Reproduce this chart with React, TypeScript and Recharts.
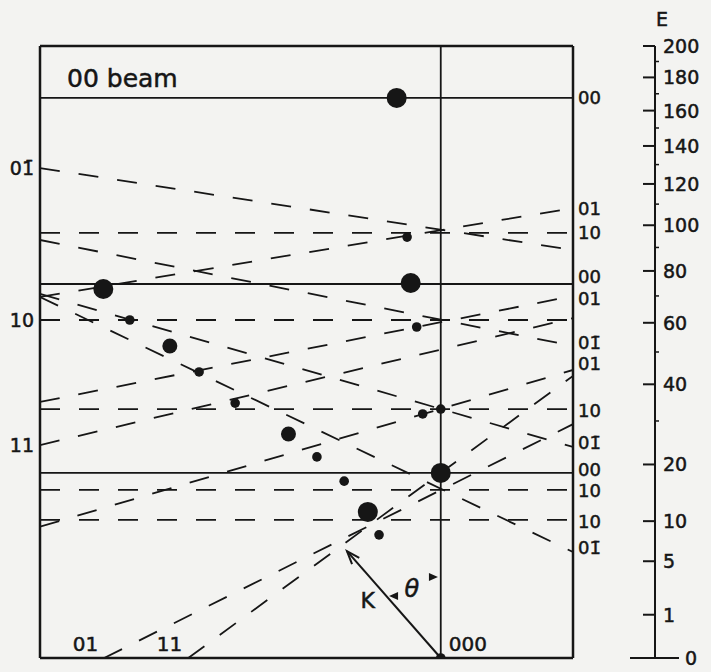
import React from 'react';
import {
  ComposedChart,
  Line,
  Scatter,
  XAxis,
  YAxis,
  ReferenceLine,
  ReferenceDot,
} from 'recharts';

const INK = '#161616';
const FONT = '"DejaVu Sans", Verdana, sans-serif';
const DASH = '20 19';

// x: parallel momentum (000 beam at 0), e: energy in eV (plotted on a sqrt scale)
const beamLevels = [167.5, 74.7, 18.3];
const tenLevels = [96.5, 61.0, 33.1, 15.1, 10.2];

// dashed lines, edge to edge
const line01barA = [{ x: -100, e: 128.2 }, { x: 33, e: 88.9 }];
const line01A = [{ x: -100, e: 69.6 }, { x: 33, e: 108.1 }];
const line01barB = [{ x: -100, e: 93.3 }, { x: 33, e: 52.0 }];
const line01B = [{ x: -100, e: 35.0 }, { x: 33, e: 70.0 }];
const line01barC = [{ x: -100, e: 69.6 }, { x: 33, e: 6.0 }];
const line01barD = [{ x: -100, e: 70.8 }, { x: 33, e: 23.8 }];
const line01D = [{ x: -100, e: 9.2 }, { x: 33, e: 44.3 }];
const line11 = [{ x: -100, e: 24.2 }, { x: 33, e: 61.7 }];
const line01Bottom = [{ x: -84, e: 0 }, { x: 33, e: 29.2 }];
const line11Bottom = [{ x: -63, e: 0 }, { x: 33, e: 42.5 }];

const dashedLines = [
  line01barA, line01A, line01barB, line01B, line01barC,
  line01barD, line01D, line11, line01Bottom, line11Bottom,
];

// intensity spots
const bigSpots = [
  { x: -11, e: 167.5 },
  { x: -84.2, e: 72.7 },
  { x: -7.5, e: 75.1 },
  { x: 0, e: 18.3 },
  { x: -18.2, e: 11.4 },
];
const midSpots = [
  { x: -67.6, e: 52.0 },
  { x: -38, e: 26.8 },
];
const smallSpots = [
  { x: -8.4, e: 94.6 },
  { x: -77.6, e: 61.0 },
  { x: -60.3, e: 43.7 },
  { x: -51.3, e: 34.7 },
  { x: -30.9, e: 21.6 },
  { x: -24.1, e: 16.7 },
  { x: -15.4, e: 8.1 },
  { x: -6, e: 58.5 },
  { x: 0, e: 33.1 },
  { x: -4.5, e: 31.8 },
  { x: 0, e: 0 },
];

// labels
const leftTicks = [128.2, 61.0, 24.2];
const leftNames = ['01\u0304', '10', '11'];
const rightTicks = [167.5, 107.7, 96.5, 77.6, 69.0, 53.0, 46.2, 32.8, 24.7, 18.9, 14.9, 10.0, 6.5];
const rightNames = ['00', '01', '10', '00', '01', '01\u0304', '01', '10', '01\u0304', '00', '10', '10', '01\u0304'];
const bottomTicks = [-84, -63, 0];
const bottomNames = ['01', '11', '000'];
const eMajor = [0, 1, 5, 10, 20, 40, 60, 80, 100, 120, 140, 160, 180, 200];
const eMinor = [30, 50, 70, 90, 110, 130, 150, 170, 190];

// K vector
const kStart = { x: 0, e: 0 };
const kTip = { x: -23.4, e: 6.1 };

// lettering: a thin outline makes it read like the pen-drawn labels
const txt = { fontFamily: FONT, fill: INK, stroke: INK, strokeWidth: 0.5 } as const;

const LeftTick = ({ x, y, index }: any) => (
  <text x={x - 6} y={y} textAnchor="end" dominantBaseline="central" fontSize={19} {...txt}>
    {leftNames[index]}
  </text>
);

const RightTick = ({ x, y, index }: any) => (
  <text x={x + 5} y={y} textAnchor="start" dominantBaseline="central" fontSize={18} {...txt}>
    {rightNames[index]}
  </text>
);

const BottomTick = ({ x, y, index }: any) => {
  const isOrigin = bottomTicks[index] === 0;
  return (
    <text
      x={isOrigin ? x + 8 : x - 6}
      y={y - 7}
      textAnchor={isOrigin ? 'start' : 'end'}
      fontSize={20}
      {...txt}
    >
      {bottomNames[index]}
    </text>
  );
};

const ETick = ({ x, y, payload }: any) => {
  const v = payload.value;
  if (!eMajor.includes(v)) {
    return <line x1={x} x2={x + 4} y1={y} y2={y} stroke={INK} strokeWidth={1.5} />;
  }
  const zero = v === 0;
  return (
    <g>
      <line x1={zero ? x - 25 : x - 12} x2={zero ? x + 24 : x} y1={y} y2={y} stroke={INK} strokeWidth={2} />
      <text x={zero ? x + 30 : x + 8} y={y} dominantBaseline="central" fontSize={19} {...txt}>
        {v}
      </text>
    </g>
  );
};

const KArrow = (p: any) => {
  const { x1, y1, x2, y2 } = p;
  if (x1 == null) return null;
  const ang = Math.atan2(y2 - y1, x2 - x1);
  const L = 14;
  const W = 0.35;
  const a1x = x2 - L * Math.cos(ang - W);
  const a1y = y2 - L * Math.sin(ang - W);
  const a2x = x2 - L * Math.cos(ang + W);
  const a2y = y2 - L * Math.sin(ang + W);
  return (
    <g stroke={INK} strokeWidth={2} fill="none">
      <line x1={x1} y1={y1} x2={x2} y2={y2} />
      <polyline points={`${a1x},${a1y} ${x2},${y2} ${a2x},${a2y}`} />
    </g>
  );
};

const Spot = (r: number) => (props: any) =>
  <circle cx={props.cx} cy={props.cy} r={r} fill={INK} />;

const Head = (dir: number) => (props: any) => {
  const { cx, cy } = props;
  return (
    <polygon
      points={`${cx + dir * 6},${cy} ${cx - dir * 3},${cy - 4} ${cx - dir * 3},${cy + 4}`}
      fill={INK}
    />
  );
};

export default function App() {
  return (
    <div style={{ width: 711, height: 672, background: '#f3f3f1' }}>
      <style>{'body{margin:0}'}</style>
      <ComposedChart width={711} height={672} margin={{ top: 46, right: 0, bottom: 0, left: 0 }}>
        <XAxis
          type="number"
          dataKey="x"
          domain={[-100, 33]}
          allowDataOverflow
          ticks={bottomTicks}
          interval={0}
          height={14}
          axisLine={{ stroke: INK, strokeWidth: 2.5 }}
          tickLine={false}
          tickSize={0}
          tickMargin={0}
          tick={BottomTick}
        />
        <YAxis
          yAxisId="main"
          type="number"
          dataKey="e"
          scale="sqrt"
          domain={[0, 200]}
          allowDataOverflow
          ticks={leftTicks}
          interval={0}
          width={40}
          axisLine={{ stroke: INK, strokeWidth: 2.5 }}
          tickLine={false}
          tickSize={0}
          tickMargin={0}
          tick={LeftTick}
        />
        <YAxis
          yAxisId="a1"
          orientation="right"
          type="number"
          scale="sqrt"
          domain={[0, 200]}
          allowDataOverflow
          ticks={rightTicks}
          interval={0}
          width={82}
          axisLine={{ stroke: INK, strokeWidth: 2.5 }}
          tickLine={false}
          tickSize={0}
          tickMargin={0}
          tick={RightTick}
        />
        <YAxis
          yAxisId="a2"
          orientation="right"
          type="number"
          scale="sqrt"
          domain={[0, 200]}
          allowDataOverflow
          ticks={[...eMajor, ...eMinor]}
          interval={0}
          width={56}
          axisLine={{ stroke: INK, strokeWidth: 2 }}
          tickLine={false}
          tickSize={0}
          tickMargin={0}
          tick={ETick}
          label={{
            content: (p: any) => (
              <text x={(p.viewBox?.x ?? 655) + 1} y={(p.viewBox?.y ?? 46) - 20} fontSize={19} {...txt}>
                E
              </text>
            ),
          }}
        />

        {/* frame top */}
        <ReferenceLine yAxisId="main" y={200} stroke={INK} strokeWidth={2.5} />

        {/* 000 axis */}
        <ReferenceLine yAxisId="main" x={0} stroke={INK} strokeWidth={1.8} />

        {beamLevels.map((v, i) => (
          <ReferenceLine
            key={`beam-${i}`}
            yAxisId="main"
            y={v}
            stroke={INK}
            strokeWidth={1.8}
            label={
              i === 0
                ? {
                    content: (p: any) => (
                      <text x={(p.viewBox?.x ?? 40) + 27} y={(p.viewBox?.y ?? 98) - 11} fontSize={25} {...txt}>
                        00 beam
                      </text>
                    ),
                  }
                : undefined
            }
          />
        ))}

        {tenLevels.map((v, i) => (
          <ReferenceLine
            key={`ten-${i}`}
            yAxisId="main"
            y={v}
            stroke={INK}
            strokeWidth={1.8}
            strokeDasharray={DASH}
          />
        ))}

        {dashedLines.map((d, i) => (
          <Line
            key={`dl-${i}`}
            yAxisId="main"
            data={d}
            dataKey="e"
            type="linear"
            stroke={INK}
            strokeWidth={1.8}
            strokeDasharray={DASH}
            dot={false}
            activeDot={false}
            isAnimationActive={false}
          />
        ))}

        <ReferenceLine
          yAxisId="main"
          segment={[{ x: kStart.x, y: kStart.e }, { x: kTip.x, y: kTip.e }]}
          shape={KArrow}
        />
        <ReferenceDot yAxisId="main" x={-11.4} y={2.05} r={0} shape={Head(-1)} />
        <ReferenceDot yAxisId="main" x={-2.2} y={3.5} r={0} shape={Head(1)} />
        <ReferenceDot
          yAxisId="main"
          x={-18.2}
          y={1.8}
          r={0}
          label={{ value: 'K', position: 'center', fontSize: 22, fontFamily: FONT, fill: INK, stroke: INK, strokeWidth: 0.5 }}
        />
        <ReferenceDot
          yAxisId="main"
          x={-7.2}
          y={2.6}
          r={0}
          label={{ value: 'θ', position: 'center', fontSize: 24, fontFamily: FONT, fill: INK, stroke: INK, strokeWidth: 0.5, fontStyle: 'italic' }}
        />

        <Scatter yAxisId="main" data={bigSpots} dataKey="e" shape={Spot(10)} isAnimationActive={false} />
        <Scatter yAxisId="main" data={midSpots} dataKey="e" shape={Spot(7.5)} isAnimationActive={false} />
        <Scatter yAxisId="main" data={smallSpots} dataKey="e" shape={Spot(4.8)} isAnimationActive={false} />
      </ComposedChart>
    </div>
  );
}
